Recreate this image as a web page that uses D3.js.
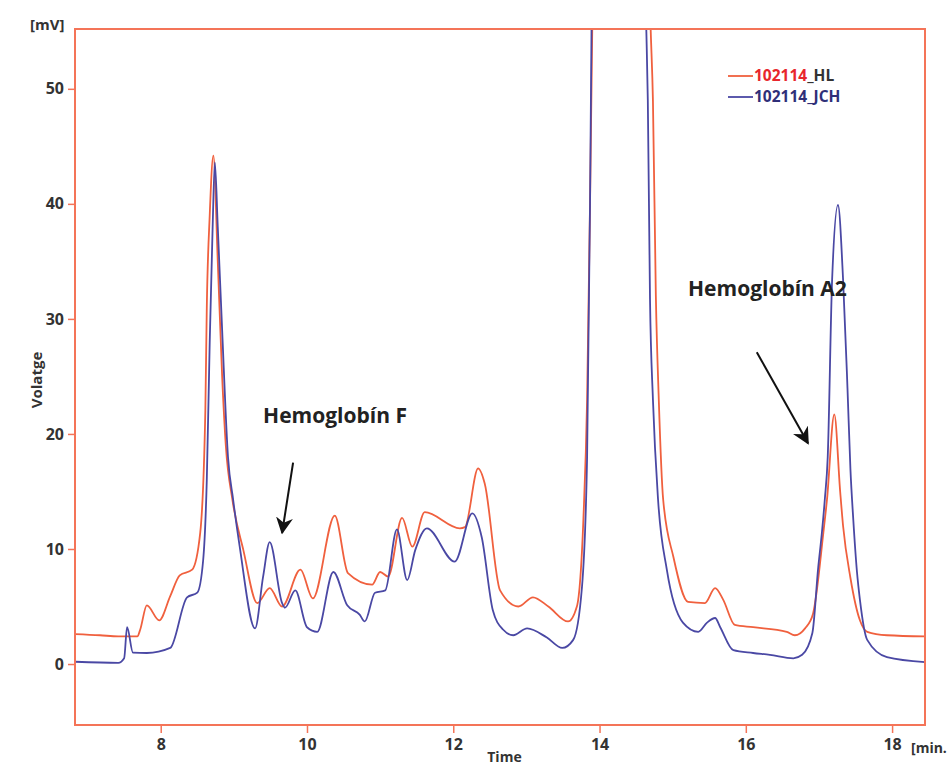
<!DOCTYPE html>
<html>
<head>
<meta charset="utf-8">
<script src="https://cdn.jsdelivr.net/npm/d3@7"></script>
<style>
  html, body { margin: 0; padding: 0; background: #ffffff; }
  svg { display: block; }
  text { font-family: "Open Sans", "Noto Sans", sans-serif; }
</style>
</head>
<body>
<svg id="chart" width="948" height="767"></svg>
<script>
// ---- data (time in minutes, signal in mV) ----
const seriesNames = ["102114_HL", "102114_JCH"];
const hlTime = [6.83, 7.17, 7.42, 7.68, 7.72, 7.81, 7.98, 8.13, 8.26, 8.43, 8.54, 8.61, 8.63, 8.67, 8.72, 8.78, 8.84, 8.89, 8.98, 9.13, 9.32, 9.49, 9.66, 9.91, 10.08, 10.38, 10.56, 10.89, 11.00, 11.11, 11.30, 11.44, 11.61, 12.09, 12.16, 12.34, 12.43, 12.64, 12.89, 13.09, 13.30, 13.57, 13.69, 13.78, 13.83, 13.87, 13.90, 14.00, 14.30, 14.55, 14.70, 14.73, 14.77, 14.81, 14.87, 15.01, 15.21, 15.44, 15.58, 15.69, 15.85, 16.10, 16.56, 16.67, 16.81, 16.92, 17.06, 17.11, 17.21, 17.29, 17.33, 17.43, 17.56, 17.66, 17.93, 18.45];
const hlValue = [2.6, 2.5, 2.4, 2.4, 3.0, 5.1, 3.8, 5.9, 7.7, 8.2, 11.4, 22, 31, 39, 44.2, 35, 25, 19, 14.3, 9.9, 5.3, 6.6, 5.0, 8.2, 5.7, 12.9, 7.9, 6.9, 8.0, 7.6, 12.7, 10.2, 13.2, 11.8, 11.9, 17.0, 15.7, 6.4, 5.0, 5.8, 5.0, 3.7, 5.0, 12.7, 23, 40, 55, 90, 130, 90, 55, 49, 32, 23, 14.3, 9.3, 5.4, 5.3, 6.6, 5.6, 3.4, 3.2, 2.8, 2.5, 3.1, 4.4, 11.4, 14.3, 21.7, 15.0, 12.0, 7.5, 3.8, 2.8, 2.5, 2.4];
const jchTime = [6.83, 7.42, 7.50, 7.54, 7.62, 7.81, 8.13, 8.36, 8.50, 8.58, 8.63, 8.67, 8.71, 8.74, 8.78, 8.84, 8.92, 8.99, 9.08, 9.29, 9.40, 9.49, 9.66, 9.70, 9.84, 10.00, 10.14, 10.36, 10.55, 10.72, 10.79, 10.93, 11.07, 11.23, 11.37, 11.48, 11.64, 12.02, 12.26, 12.39, 12.54, 12.68, 12.82, 13.01, 13.28, 13.49, 13.64, 13.76, 13.83, 13.87, 13.89, 14.00, 14.30, 14.50, 14.64, 14.66, 14.69, 14.73, 14.80, 14.92, 15.14, 15.35, 15.47, 15.58, 15.65, 15.83, 16.10, 16.33, 16.65, 16.77, 16.91, 16.99, 17.04, 17.08, 17.12, 17.18, 17.26, 17.33, 17.39, 17.43, 17.47, 17.52, 17.56, 17.66, 17.93, 18.45];
const jchValue = [0.2, 0.1, 0.5, 3.2, 1.0, 0.96, 1.4, 5.8, 6.2, 9.0, 16, 28, 38, 43.6, 38, 29, 18, 14.3, 10.2, 3.1, 7.6, 10.6, 5.3, 4.9, 6.4, 3.2, 2.8, 8.0, 5.1, 4.3, 3.7, 6.2, 6.4, 11.7, 7.3, 9.9, 11.8, 8.9, 13.1, 11.0, 4.7, 3.0, 2.5, 3.1, 2.3, 1.4, 2.1, 6.7, 18, 40, 55, 95, 130, 80, 55, 49, 31.7, 23, 14.3, 8.2, 3.6, 2.8, 3.6, 4.0, 3.2, 1.2, 0.96, 0.8, 0.5, 0.8, 2.7, 8.4, 11.4, 14.3, 18, 33.4, 39.9, 33.4, 24, 17, 12.5, 8.0, 5.6, 2.1, 0.6, 0.17];
const xTicks = [8, 10, 12, 14, 16, 18];
const yTicks = [0, 10, 20, 30, 40, 50];
const annoLabels = ["Hemoglobín F", "Hemoglobín A2"];
const annoTextX = [9.40, 15.21];
const annoTextY = [20.96, 32.0];
const arrowX1 = [9.81, 16.15];
const arrowY1 = [17.5, 27.1];
const arrowX2 = [9.66, 16.85];
const arrowY2 = [11.4, 19.2];

// ---- layout ----
const svg = d3.select("#chart");
const L = 75, R = 925, T = 29, B = 725;
const frameColor = "#f47458";
const colors = ["#f0603e", "#4a48a4"];

const x = d3.scaleLinear().domain([6.828, 18.45]).range([L, R]);
const y = d3.scaleLinear().domain([-5.3, 55.2]).range([B, T]);

const defs = svg.append("defs");
defs.append("clipPath").attr("id", "plotclip")
  .append("rect").attr("x", L).attr("y", T).attr("width", R - L).attr("height", B - T);
defs.append("marker").attr("id", "arrowhead")
  .attr("viewBox", "0 0 10 10").attr("refX", 9).attr("refY", 5)
  .attr("markerWidth", 17).attr("markerHeight", 17).attr("markerUnits", "userSpaceOnUse")
  .attr("orient", "auto")
  .append("path").attr("d", "M0,0 L10,5 L0,10 L3,5 Z").attr("fill", "#111");

// Axes
const xAxis = d3.axisBottom(x).tickValues(xTicks).tickSize(8).tickPadding(6).tickFormat(d3.format("d"));
const yAxis = d3.axisLeft(y).tickValues(yTicks).tickSize(7).tickPadding(4).tickFormat(d3.format("d"));

const gx = svg.append("g").attr("transform", `translate(0,${B})`).call(xAxis);
const gy = svg.append("g").attr("transform", `translate(${L},0)`).call(yAxis);
[gx, gy].forEach(g => {
  g.select(".domain").remove();
  g.selectAll(".tick line").attr("stroke", frameColor).attr("stroke-width", 1.5);
  g.selectAll(".tick text").attr("fill", "#333").attr("font-size", 16).attr("font-weight", 700)
    .style("font-family", "'Open Sans', sans-serif");
});

// Lines
const line = d3.line().x(d => x(d[0])).y(d => y(d[1])).curve(d3.curveMonotoneX);
const hlData = hlTime.map((t, i) => [t, hlValue[i]]);
const jchData = jchTime.map((t, i) => [t, jchValue[i]]);

const plot = svg.append("g").attr("clip-path", "url(#plotclip)");
plot.append("path").datum(hlData).attr("d", line)
  .attr("fill", "none").attr("stroke", colors[0]).attr("stroke-width", 1.8).attr("stroke-linejoin", "round");
plot.append("path").datum(jchData).attr("d", line)
  .attr("fill", "none").attr("stroke", colors[1]).attr("stroke-width", 1.8).attr("stroke-linejoin", "round");

// Frame
svg.append("rect").attr("x", L).attr("y", T).attr("width", R - L).attr("height", B - T)
  .attr("fill", "none").attr("stroke", frameColor).attr("stroke-width", 2);

// Axis titles
svg.append("text").attr("x", 30).attr("y", 30).text("[mV]")
  .attr("font-size", 15).attr("font-weight", 700).attr("fill", "#333");
svg.append("text").attr("transform", "translate(42,380) rotate(-90)").attr("text-anchor", "middle")
  .text("Volatge").attr("font-size", 15).attr("font-weight", 700).attr("fill", "#333");
svg.append("text").attr("x", x(12.7)).attr("y", 762).attr("text-anchor", "middle")
  .text("Time").attr("font-size", 14).attr("font-weight", 700).attr("fill", "#333");
svg.append("text").attr("x", 911).attr("y", 753).text("[min.")
  .attr("font-size", 14).attr("font-weight", 700).attr("fill", "#333");

// Legend
const legY = [76, 97];
seriesNames.forEach((name, i) => {
  const g = svg.append("g");
  g.append("line").attr("x1", 728).attr("x2", 753).attr("y1", legY[i]).attr("y2", legY[i])
    .attr("stroke", colors[i]).attr("stroke-width", 1.8);
  const t = g.append("text").attr("x", 754).attr("y", legY[i] + 5)
    .attr("font-size", 15.5).attr("font-weight", 700);
  const parts = name.split("_");
  t.append("tspan").text(parts[0]).attr("fill", i === 0 ? "#e8262c" : "#2f2f78");
  t.append("tspan").text("_" + parts[1]).attr("fill", i === 0 ? "#333" : "#2f2f78");
});

// Annotations
annoLabels.forEach((lab, i) => {
  svg.append("text").attr("x", x(annoTextX[i])).attr("y", y(annoTextY[i]))
    .text(lab).attr("font-size", 21).attr("font-weight", 700).attr("fill", "#222");
  svg.append("line")
    .attr("x1", x(arrowX1[i])).attr("y1", y(arrowY1[i]))
    .attr("x2", x(arrowX2[i])).attr("y2", y(arrowY2[i]))
    .attr("stroke", "#111").attr("stroke-width", 2)
    .attr("marker-end", "url(#arrowhead)");
});
</script>
</body>
</html>
